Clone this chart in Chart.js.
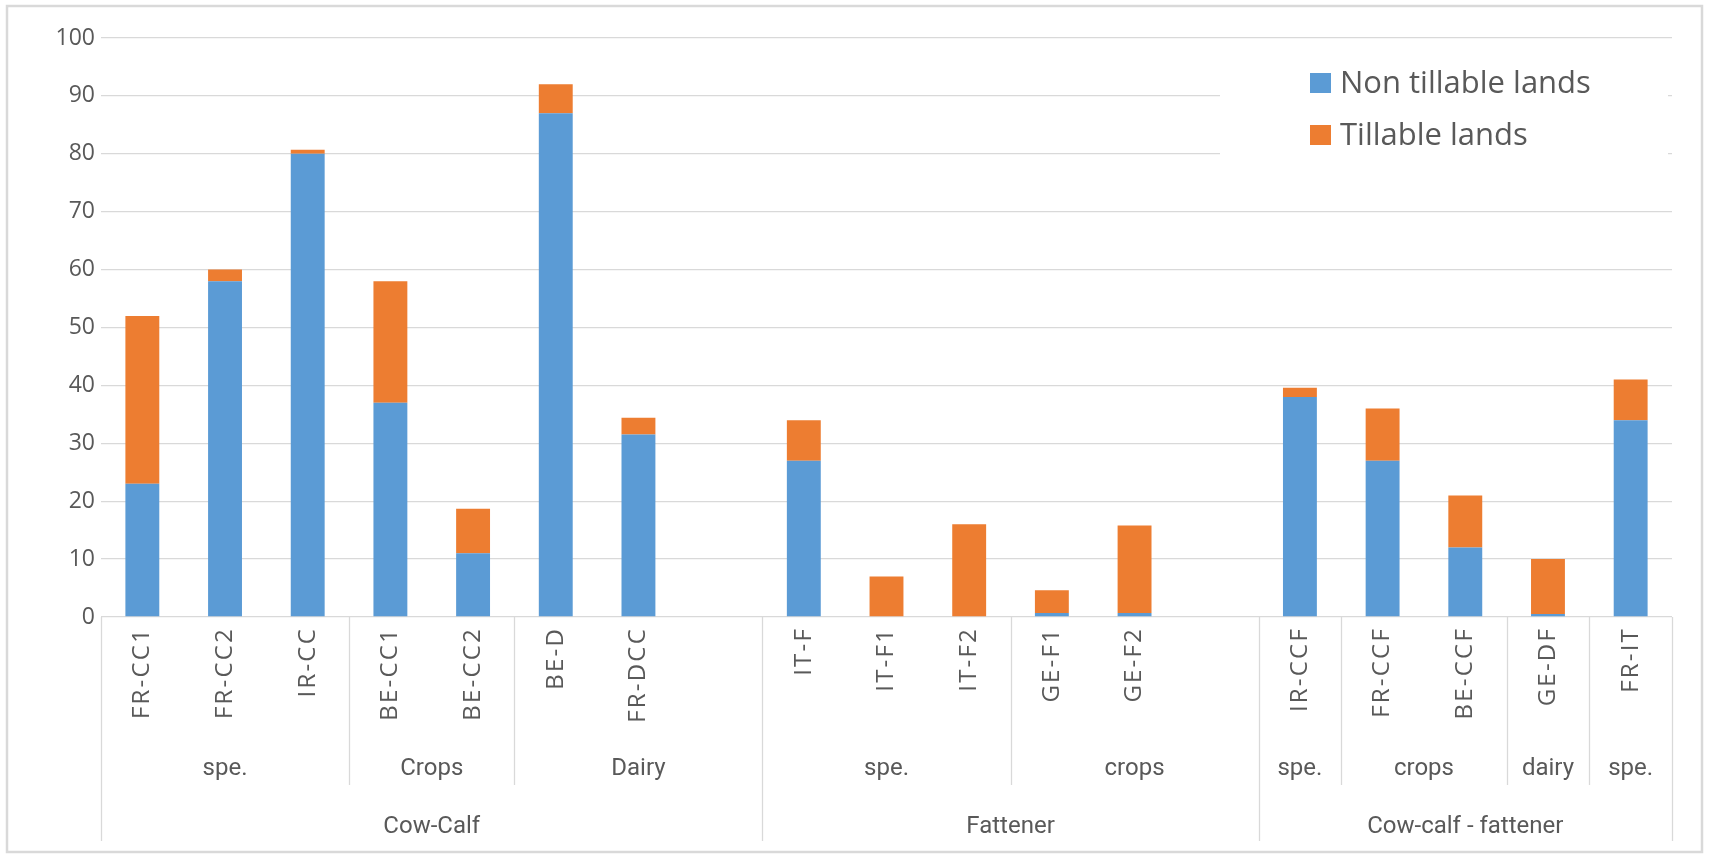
<!DOCTYPE html>
<html>
<head>
<meta charset="utf-8">
<script src="https://cdn.jsdelivr.net/npm/chart.js@4.4.1/dist/chart.umd.min.js"></script>
<style>
  html, body { margin: 0; padding: 0; background: #fff; }
  canvas { display: block; }
</style>
</head>
<body>
<canvas id="landChart" width="1709" height="859"></canvas>
<script>
// farm types, two empty slots separate the three main groups
const categories = ['FR-CC1', 'FR-CC2', 'IR-CC', 'BE-CC1', 'BE-CC2', 'BE-D', 'FR-DCC', '',
    'IT-F', 'IT-F1', 'IT-F2', 'GE-F1', 'GE-F2', '',
    'IR-CCF', 'FR-CCF', 'BE-CCF', 'GE-DF', 'FR-IT'];
const nonTillable = [23, 58, 80, 37, 11, 87, 31.5, null, 27, 0, 0, 0.7, 0.7, null, 38, 27, 12, 0.5, 34];
const tillable = [29, 2, 0.7, 21, 7.7, 5, 2.9, null, 7, 7, 16, 3.9, 15.1, null, 1.6, 9, 9, 9.5, 7];
const yTicks = [0, 10, 20, 30, 40, 50, 60, 70, 80, 90, 100];

// second and third level of the category axis (first / last category index)
const subLabels = ['spe.', 'Crops', 'Dairy', 'spe.', 'crops', 'spe.', 'crops', 'dairy', 'spe.'];
const subSpans = [[0, 2], [3, 4], [5, 7], [8, 10], [11, 13], [14, 14], [15, 16], [17, 17], [18, 18]];
const groupLabels = ['Cow-Calf', 'Fattener', 'Cow-calf - fattener'];
const groupSpans = [[0, 7], [8, 13], [14, 18]];

const seriesNames = ['Non tillable lands', 'Tillable lands'];
const seriesColors = ['#5b9bd5', '#ed7d31'];

const TEXT = '#595959';
const LINE = '#d9d9d9';

// category names are drawn letter-spaced (x ticks are on the z=0 layer,
// y ticks were moved to z=1 so they are not affected)
const spacingPlugin = {
    id: 'tickSpacing',
    beforeDraw(chart) { chart.ctx.letterSpacing = '2.2px'; },
    beforeDatasetsDraw(chart) { chart.ctx.letterSpacing = '0px'; }
};

const groupAxisPlugin = {
    id: 'groupAxis',
    afterDraw(chart) {
        const { ctx, chartArea, scales } = chart;
        const x = scales.x;
        const axisY = chartArea.bottom;
        const subBottom = 785, groupBottom = 841;

        const edge = i => {
            if (i <= 0) return chartArea.left;
            if (i >= categories.length) return chartArea.right;
            return (x.getPixelForValue(i - 1) + x.getPixelForValue(i)) / 2;
        };

        ctx.save();
        ctx.letterSpacing = '0px';
        ctx.strokeStyle = LINE;
        ctx.lineWidth = 1.3;
        const vline = (px, bottom) => {
            ctx.beginPath();
            ctx.moveTo(Math.round(px) + 0.5, axisY);
            ctx.lineTo(Math.round(px) + 0.5, bottom);
            ctx.stroke();
        };
        const groupEdges = new Set();
        groupSpans.forEach(([a, b]) => { groupEdges.add(a); groupEdges.add(b + 1); });
        subSpans.forEach(([a]) => { if (!groupEdges.has(a)) vline(edge(a), subBottom); });
        groupEdges.forEach(i => vline(edge(i), groupBottom));

        ctx.fillStyle = TEXT;
        ctx.textAlign = 'center';
        ctx.textBaseline = 'middle';
        ctx.font = '24px "Liberation Sans Narrow", "Roboto", sans-serif';
        subLabels.forEach((lab, k) => {
            const [a, b] = subSpans[k];
            ctx.fillText(lab, (edge(a) + edge(b + 1)) / 2, 769);
        });
        groupLabels.forEach((lab, k) => {
            const [a, b] = groupSpans[k];
            ctx.fillText(lab, (edge(a) + edge(b + 1)) / 2, 827);
        });

        // outer frame
        ctx.strokeStyle = '#d9d9d9';
        ctx.lineWidth = 2.5;
        ctx.strokeRect(7, 6, 1695, 846);
        ctx.restore();
    }
};

const legendPlugin = {
    id: 'innerLegend',
    afterDatasetsDraw(chart) {
        const { ctx } = chart;
        ctx.save();
        ctx.fillStyle = '#ffffff';
        ctx.fillRect(1220, 58, 448, 122);
        ctx.font = '31px "Open Sans", sans-serif';
        ctx.textBaseline = 'middle';
        ctx.textAlign = 'left';
        chart.data.datasets.forEach((ds, i) => {
            const cy = 83 + i * 52;
            ctx.fillStyle = ds.backgroundColor;
            ctx.fillRect(1310, cy - 10, 21, 20);
            ctx.fillStyle = TEXT;
            ctx.fillText(ds.label, 1340, cy + 1);
        });
        ctx.restore();
    }
};

new Chart(document.getElementById('landChart'), {
    type: 'bar',
    data: {
        labels: categories,
        datasets: [
            { label: seriesNames[0], data: nonTillable, backgroundColor: seriesColors[0] },
            { label: seriesNames[1], data: tillable, backgroundColor: seriesColors[1] }
        ]
    },
    options: {
        responsive: false,
        animation: false,
        layout: { padding: { left: 0, right: 37, top: 38, bottom: 0 } },
        datasets: { bar: { categoryPercentage: 1, barPercentage: 0.41 } },
        plugins: {
            legend: { display: false },
            tooltip: { enabled: false }
        },
        scales: {
            x: {
                stacked: true,
                grid: { display: false, drawTicks: false },
                border: { display: false },
                ticks: {
                    autoSkip: false,
                    minRotation: 90,
                    maxRotation: 90,
                    padding: 10,
                    color: TEXT,
                    font: { family: 'Open Sans', size: 24 }
                },
                afterFit(scale) { scale.height = 242; }
            },
            y: {
                stacked: true,
                min: 0,
                max: 100,
                afterBuildTicks(scale) { scale.ticks = yTicks.map(v => ({ value: v })); },
                grid: { color: LINE, lineWidth: 1.3, drawTicks: false },
                border: { display: false },
                ticks: {
                    z: 1,
                    padding: 6,
                    color: TEXT,
                    font: { family: 'Open Sans', size: 23 }
                },
                afterFit(scale) { scale.width = 101; }
            }
        }
    },
    plugins: [spacingPlugin, groupAxisPlugin, legendPlugin]
});
</script>
</body>
</html>
